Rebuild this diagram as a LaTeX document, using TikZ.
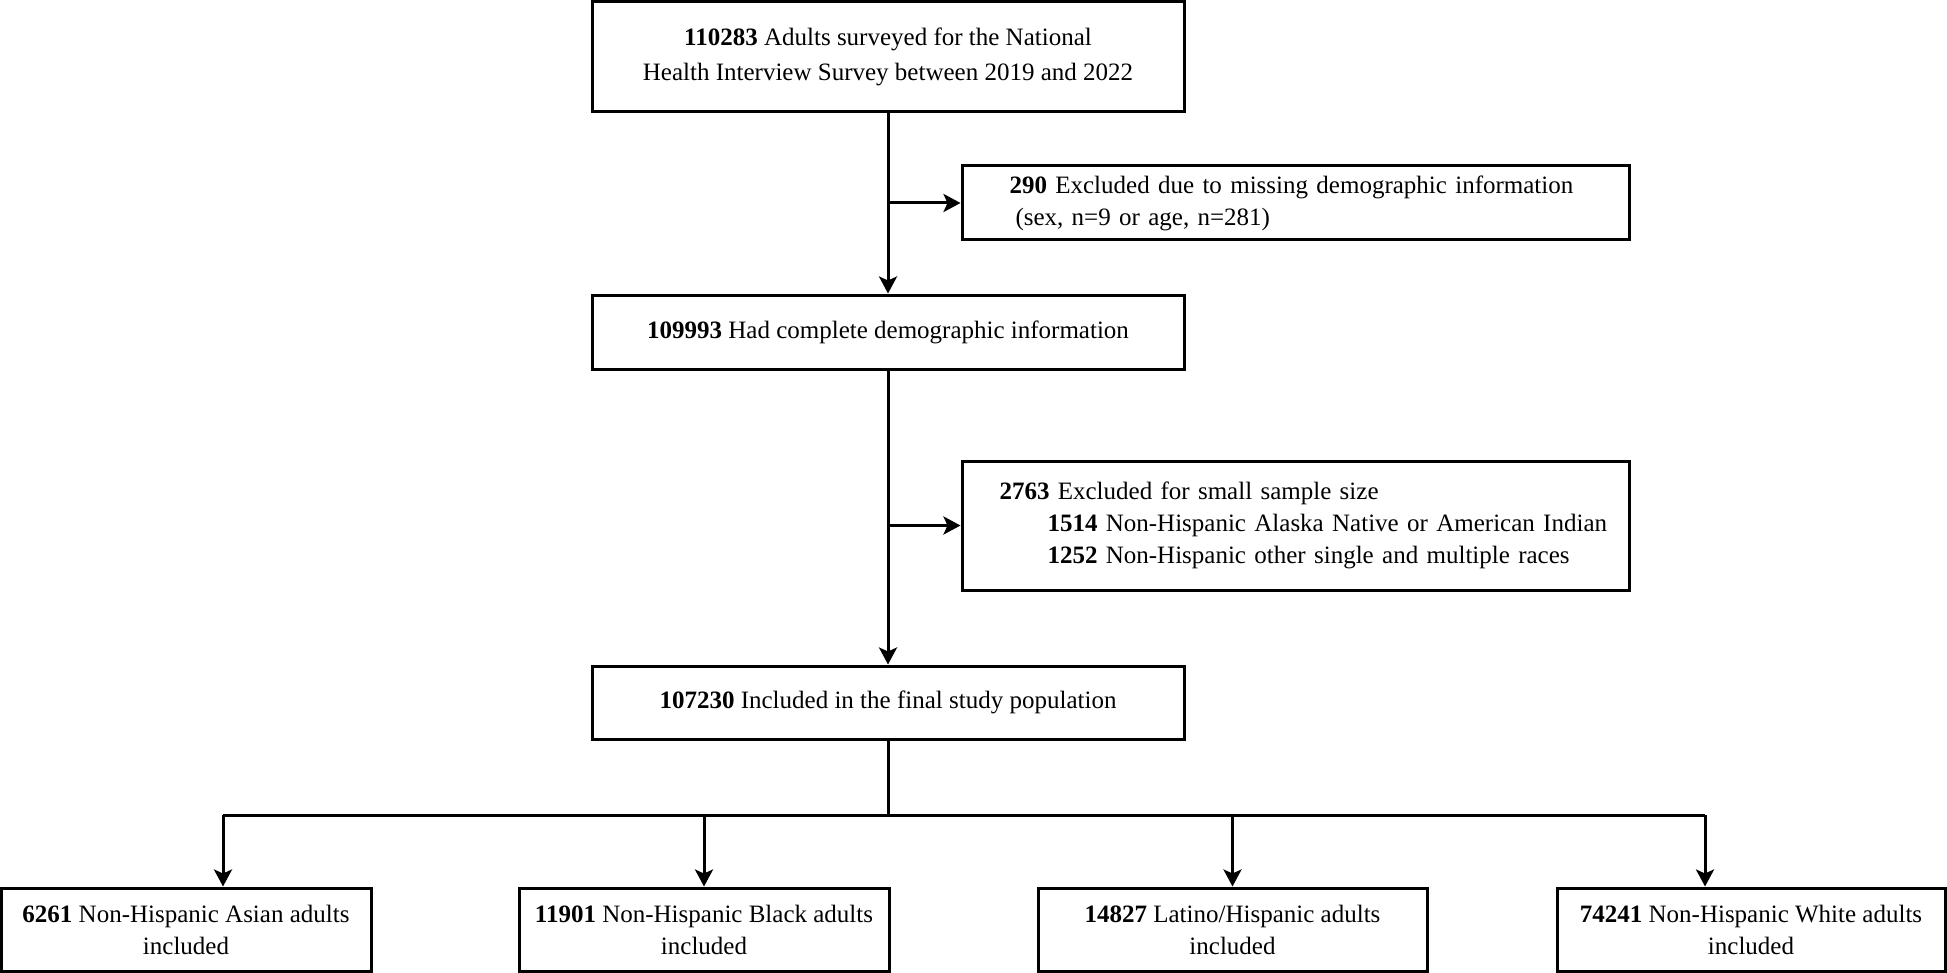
\documentclass[tikz,border=0pt]{standalone}
\usepackage{fontspec}
\setmainfont{Liberation Serif}
\usetikzlibrary{arrows.meta}
\begin{document}
\begin{tikzpicture}[x=0.5pt,y=-0.5pt,
  box/.style={draw=black,line width=1.5pt,inner sep=0pt,align=center,
    font=\fontsize{12.5}{16}\selectfont},
  exbox/.style={draw=black,line width=1.5pt,inner ysep=0pt,align=left,
    font=\fontsize{12.5}{16}\selectfont},
  arr/.style={line width=1.5pt,-{Stealth[length=8.5pt,width=9pt,inset=2pt]}},
  ln/.style={line width=1.5pt}]
\useasboundingbox (0,0) rectangle (1947,973);
\node[box,minimum width=296pt,minimum height=55pt,font=\fontsize{12.5}{17.5}\selectfont] (top) at (888,57)
  {\textbf{110283} Adults surveyed for the National\\Health Interview Survey between 2019 and 2022};
\node[exbox,inner xsep=23.75pt,text width=286pt,minimum height=37pt] (ex1) at (1295.5,203)
  {\mbox{\textbf{290} Excluded due to missing demographic information}\\\mbox{\hspace*{3pt}(sex, n=9 or age, n=281)}};
\node[box,minimum width=296pt,minimum height=37pt] (b2) at (888,332)
  {\textbf{109993} Had complete demographic information};
\node[exbox,inner xsep=18.75pt,text width=296pt,minimum height=64.5pt] (ex2) at (1295.5,525.5)
  {\mbox{\textbf{2763} Excluded for small sample size}\\
   \mbox{\hspace*{24pt}\textbf{1514} Non-Hispanic Alaska Native or American Indian}\\
   \mbox{\hspace*{24pt}\textbf{1252} Non-Hispanic other single and multiple races}};
\node[box,minimum width=296pt,minimum height=36.5pt] (b3) at (888,702.5)
  {\textbf{107230} Included in the final study population};
\node[box,minimum width=185pt,minimum height=41.5pt] (c1) at (186,929.5)
  {\textbf{6261} Non-Hispanic Asian adults\\included};
\node[box,minimum width=185pt,minimum height=41.5pt] (c2) at (704,929.5)
  {\textbf{11901} Non-Hispanic Black adults\\included};
\node[box,minimum width=194.5pt,minimum height=41.5pt] (c3) at (1232.5,929.5)
  {\textbf{14827} Latino/Hispanic adults\\included};
\node[box,minimum width=194pt,minimum height=41.5pt] (c4) at (1751,929.5)
  {\textbf{74241} Non-Hispanic White adults\\included};
\coordinate (hub) at (888,815);
\coordinate (L) at (223,815);
\coordinate (R) at (1705,815);
\draw[arr] (top.south) -- (b2.north);
\draw[arr] (top.south |- ex1.west) -- (ex1.west);
\draw[arr] (b2.south) -- (b3.north);
\draw[arr] (b2.south |- ex2.west) -- (ex2.west);
\draw[ln] (b3.south) -- (hub);
\draw[ln] (L) -- (R);
\draw[arr] (L) -- (L |- c1.north);
\draw[arr] (c2.north |- hub) -- (c2.north);
\draw[arr] (c3.north |- hub) -- (c3.north);
\draw[arr] (R) -- (R |- c4.north);
\end{tikzpicture}
\end{document}
